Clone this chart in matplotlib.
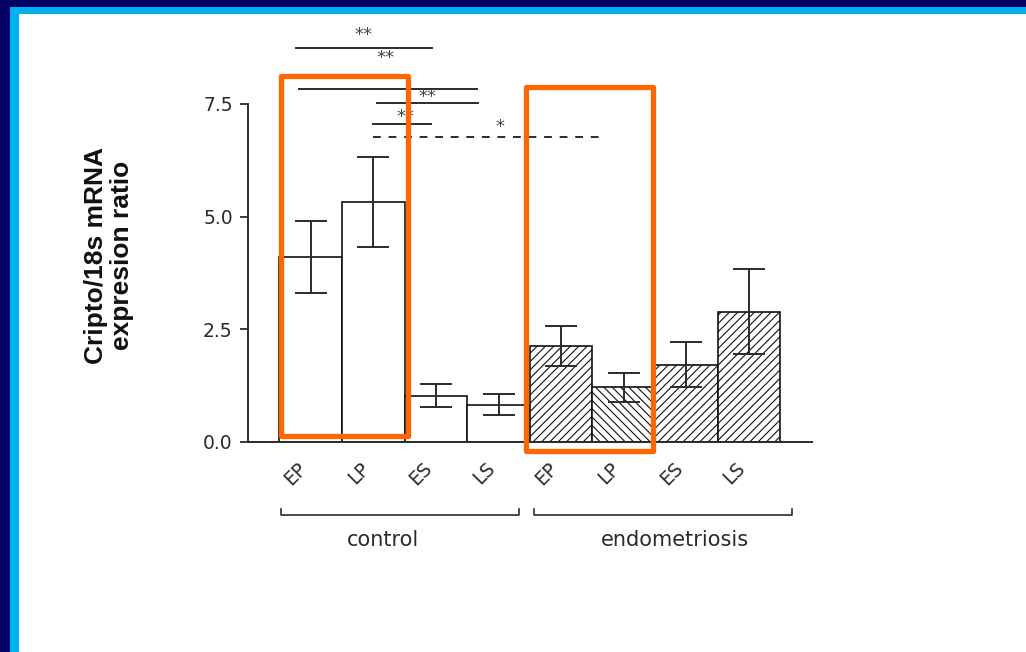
import matplotlib
matplotlib.use("Agg")
import matplotlib.pyplot as plt
from matplotlib.patches import Rectangle

# ---- data ----
groups = ["control", "endometriosis"]
phases = ["EP", "LP", "ES", "LS"]
control_mean = [4.11, 5.32, 1.03, 0.83]
control_sem = [0.80, 1.00, 0.25, 0.24]
endo_mean = [2.13, 1.21, 1.71, 2.89]
endo_sem = [0.45, 0.32, 0.50, 0.94]
endo_hatch = ["////", "\\\\\\\\", "////", "////"]

# significance bars: (x0, x1, y, label, label_x, label_y, dashed)
sig_bars = [
    (-0.23, 1.94, 8.74, "**", 0.84, 9.03, False),
    (-0.18, 2.66, 7.83, "**", 1.19, 8.52, False),
    (1.06, 2.68, 7.52, "**", 1.86, 7.65, False),
    (1.00, 1.93, 7.06, "**", 1.51, 7.21, False),
    (1.00, 4.71, 6.77, "*", 3.03, 6.99, True),
]

INK = "#2b2b2b"
plt.rcParams["hatch.linewidth"] = 0.8
plt.rcParams["hatch.color"] = "#222222"

fig = plt.figure(figsize=(10.26, 6.52), dpi=100)
fig.patch.set_facecolor("white")

# slide frame: navy outer band, light-blue inner band (top and left)
fig.add_artist(Rectangle((0, 1 - 14 / 652), 1, 14 / 652, transform=fig.transFigure,
                         facecolor="#00B0F0", edgecolor="none"))
fig.add_artist(Rectangle((0, 0), 19 / 1026, 1, transform=fig.transFigure,
                         facecolor="#00B0F0", edgecolor="none"))
fig.add_artist(Rectangle((0, 1 - 7 / 652), 1, 7 / 652, transform=fig.transFigure,
                         facecolor="#000066", edgecolor="none"))
fig.add_artist(Rectangle((0, 0), 10 / 1026, 1, transform=fig.transFigure,
                         facecolor="#000066", edgecolor="none"))

ax = fig.add_axes([0.2417, 0.3221, 0.5494, 0.5184])
means = control_mean + endo_mean
sems = control_sem + endo_sem
xs = list(range(len(means)))
hatches = [""] * len(control_mean) + endo_hatch
for x, m, h in zip(xs, means, hatches):
    ax.bar(x, m, width=1.0, color="white", edgecolor="#111111", linewidth=1.2, hatch=h)
ax.errorbar(xs, means, yerr=sems, fmt="none", ecolor=INK, elinewidth=1.4,
            capsize=11.5, capthick=1.4)

ax.set_xlim(-1.0, 8.0)
ax.set_ylim(0, 7.5)
ax.set_yticks([0, 2.5, 5.0, 7.5])
ax.set_yticklabels(["0.0", "2.5", "5.0", "7.5"])
ax.set_xticks(xs)
ax.set_xticklabels(phases * 2, rotation=45, ha="right", va="top")
ax.tick_params(axis="x", length=0, pad=12, labelsize=13.5, labelcolor=INK)
ax.tick_params(axis="y", length=6, width=1.3, color=INK, labelsize=13.5, labelcolor=INK, pad=5)
for s in ["top", "right"]:
    ax.spines[s].set_visible(False)
for s in ["left", "bottom"]:
    ax.spines[s].set_color(INK)
    ax.spines[s].set_linewidth(1.4)

# significance annotations
for x0, x1, y, lab, lx, ly, dashed in sig_bars:
    ax.plot([x0, x1], [y, y], color=INK, lw=1.4, ls=(0, (4, 4)) if dashed else "-",
            clip_on=False)
    ax.text(lx, ly, lab, ha="center", va="center", fontsize=13, color="#444444",
            clip_on=False)

# group brackets
for lab, x0, x1, tx in [(groups[0], -0.47, 3.33, 1.16), (groups[1], 3.57, 7.68, 5.82)]:
    ax.plot([x0, x0, x1, x1], [-1.49, -1.62, -1.62, -1.49], color=INK, lw=1.2,
            clip_on=False)
    ax.text(tx, -2.17, lab, ha="center", va="center", fontsize=15, color=INK)

# orange highlight boxes
for x0, y0, x1, y1 in [(-0.47, 0.14, 1.55, 8.13), (3.44, -0.2, 5.46, 7.88)]:
    ax.add_patch(Rectangle((x0, y0), x1 - x0, y1 - y0, fill=False, edgecolor="#FF6600",
                           linewidth=3.8, joinstyle="round", clip_on=False, zorder=5))

fig.text(109 / 1026, 1 - 255 / 652, "Cripto/18s mRNA\nexpresion ratio", rotation=90,
         ha="center", va="center", fontsize=19, fontweight="bold",
         family="Liberation Sans", color="#111111", linespacing=1.1)

fig.savefig("out.png", dpi=100)
